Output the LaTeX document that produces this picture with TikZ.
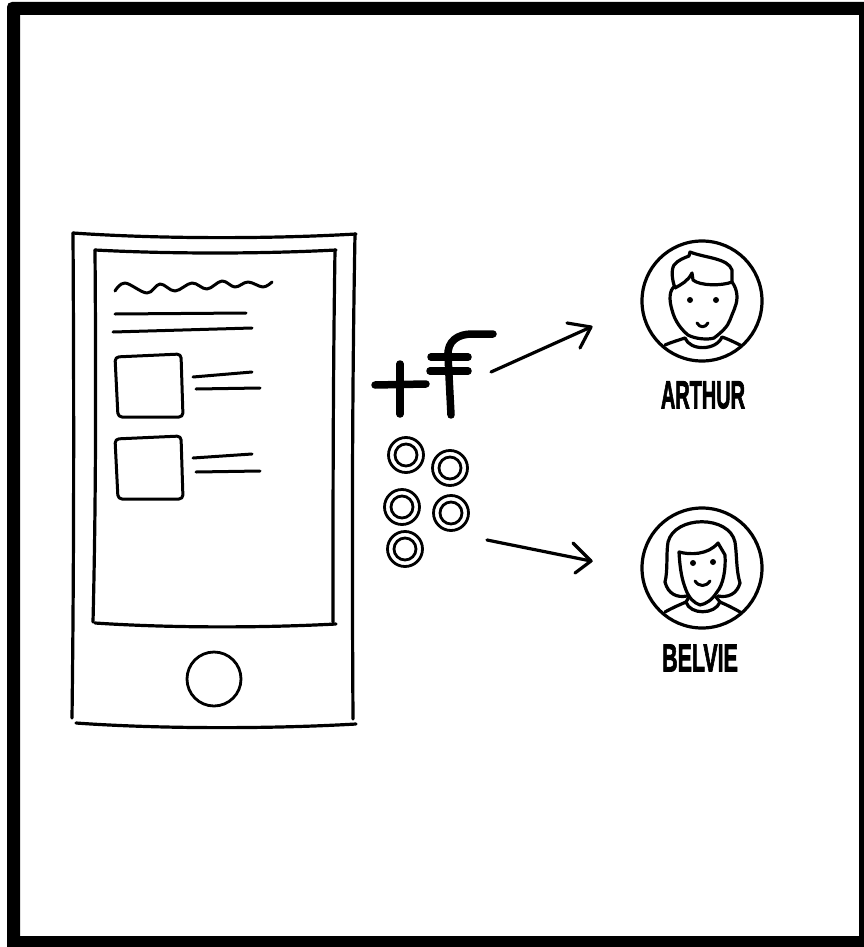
\documentclass[tikz,border=0pt]{standalone}
\usepackage{fontspec}
\setmainfont{Liberation Sans}
\newfontfamily\namefont[FakeBold=2.5]{Liberation Sans}
\tikzset{
  inkline/.style={line width=3.2pt,line cap=round,line join=round},
  thinline/.style={line width=3pt,line cap=round,line join=round},
  heavyline/.style={line width=7.5pt,line cap=round,line join=round},
  coin/.style={circle,draw,line width=2.8pt,inner sep=0pt,minimum size=#1},
  nametext/.style={font=\namefont\bfseries\fontsize{23}{23}\selectfont,inner sep=0pt,yscale=1.7},
}
\begin{document}
\begin{tikzpicture}[x=1pt,y=-1pt]
\useasboundingbox (0,0) rectangle (864,947);
\fill[white] (0,0) rectangle (864,947);
% frame
\fill[black,even odd rule,rounded corners=0pt] (12,2) -- (864,2) -- (864,947) -- (7,947) -- (7,7) .. controls (7,4) and (9,2) .. (12,2) -- cycle (20,15) rectangle (859,936);
% phone
\draw[inkline] (73,233) .. controls (160,239) and (270,239) .. (356,234);
\draw[inkline] (355,234) .. controls (352,400) and (352,560) .. (353,719);
\draw[inkline] (76,723) .. controls (160,729) and (270,729) .. (356,724);
\draw[inkline] (73,233) .. controls (74,400) and (74,560) .. (72,718);
\draw[inkline] (95,250) .. controls (170,254) and (260,254) .. (336,250);
\draw[inkline] (335,250) .. controls (333,380) and (333,500) .. (333,622);
\draw[inkline] (95,623) .. controls (170,628) and (260,628) .. (336,624);
\draw[inkline] (95,250) .. controls (96,380) and (96,500) .. (93,622);
\node[circle,draw,line width=2.8pt,minimum size=54pt,inner sep=0pt] (homekey) at (214,679) {};
% page
\draw[thinline] plot[smooth,tension=0.6] coordinates {(115,291) (125,283) (147,293) (160,284) (175,291) (192,283) (207,289) (222,281) (235,287) (248,282) (263,287) (272,282)};
\draw[thinline] (115,314) -- (246,313);
\draw[thinline] (113,332) -- (252,328);
\draw[thinline,rounded corners=4pt] (115,357) -- (181,354) -- (183,417) -- (118,417) -- cycle;
\draw[thinline,rounded corners=4pt] (115,439) -- (181,436) -- (183,499) -- (118,499) -- cycle;
\draw[thinline] (193,377) -- (252,372);
\draw[thinline] (196,389) -- (260,388);
\draw[thinline] (193,458) -- (252,454);
\draw[thinline] (196,472) -- (260,471);
% plus and currency
\draw[heavyline] (375,385) -- (426,384);
\draw[heavyline] (400,364) -- (400,414);
\draw[heavyline] (451,415) -- (448,356) .. controls (447,341) and (458,334) .. (472,334) -- (493,334);
\draw[heavyline] (431,357) -- (468,357);
\draw[heavyline] (430,371) -- (468,371);
% coins
\foreach \name/\px/\py in {a/406/455,b/450/468,c/402/507,d/451/513,e/405/549}{
  \node[coin=35pt] (coin\name) at (\px,\py) {};
  \node[coin=22pt] at (coin\name) {};
}
% arrows
\coordinate (arrowa) at (491,372);
\coordinate (heada) at (591,327);
\coordinate (arrowb) at (487,540);
\coordinate (headb) at (591,561);
\draw[inkline] (arrowa) -- (heada);
\draw[inkline] (567,323) -- (heada) -- (580,348);
\draw[inkline] (arrowb) -- (headb);
\draw[inkline] (573,543) -- (headb) -- (575,573);
% Arthur
\node[circle,draw,line width=3.2pt,minimum size=120pt,inner sep=0pt] (arthur) at (702,301) {};
\draw[inkline] (675,288) .. controls (672,280) and (671,270) .. (674,265) .. controls (678,260) and (684,258) .. (689,256) -- (690,252) .. controls (705,258) and (728,258) .. (732,270) -- (732,282) .. controls (722,286) and (700,286) .. (693,280) -- (692,273) .. controls (688,281) and (682,284) .. (675,288);
\draw[inkline] (675,286) .. controls (669,290) and (669,300) .. (672,310) .. controls (675,322) and (682,330) .. (688,335) .. controls (695,339) and (708,340) .. (714,338) .. controls (722,332) and (728,326) .. (730,320) .. controls (733,312) and (735,308) .. (735,307) .. controls (738,300) and (738,290) .. (732,282);
\fill (690,300) circle (3pt) (716,300) circle (3pt);
\draw[thinline] (697,323) .. controls (700,328) and (705,328) .. (708,323);
\draw[inkline] (665,345) .. controls (672,342) and (679,340) .. (685,338) .. controls (690,351) and (716,351) .. (722,337) .. controls (728,339) and (734,342) .. (740,345);
\node[nametext,xscale=0.866] (arthurname) at (703,395) {ARTHUR};
% Belvie
\node[circle,draw,line width=3.2pt,minimum size=120pt,inner sep=0pt] (belvie) at (702,568) {};
\draw[inkline] (687,596) .. controls (677,598) and (668,594) .. (665,582) .. controls (668,570) and (666,555) .. (668,542) .. controls (675,515) and (729,515) .. (735,542) .. controls (737,555) and (736,570) .. (740,583) .. controls (737,594) and (728,598) .. (718,596);
\draw[inkline] (679,552) .. controls (690,555) and (708,555) .. (718,543) -- (725,555) .. controls (726,570) and (723,585) .. (717,592) .. controls (712,600) and (706,604) .. (700,605) .. controls (694,603) and (689,598) .. (686,590) .. controls (682,580) and (680,570) .. (679,552) -- cycle;
\fill (693,563) circle (3pt) (713,562) circle (3pt);
\draw[thinline] (695,581) .. controls (699,587) and (706,587) .. (710,581);
\draw[inkline] (665,612) .. controls (672,608) and (679,605) .. (686,602) .. controls (690,615) and (715,615) .. (720,602) .. controls (727,605) and (733,608) .. (740,612);
\draw[inkline] (689,597) -- (686,602) (716,597) -- (720,602);
\node[nametext,xscale=0.93] (belviename) at (700,658) {BELVIE};
\end{tikzpicture}
\end{document}
